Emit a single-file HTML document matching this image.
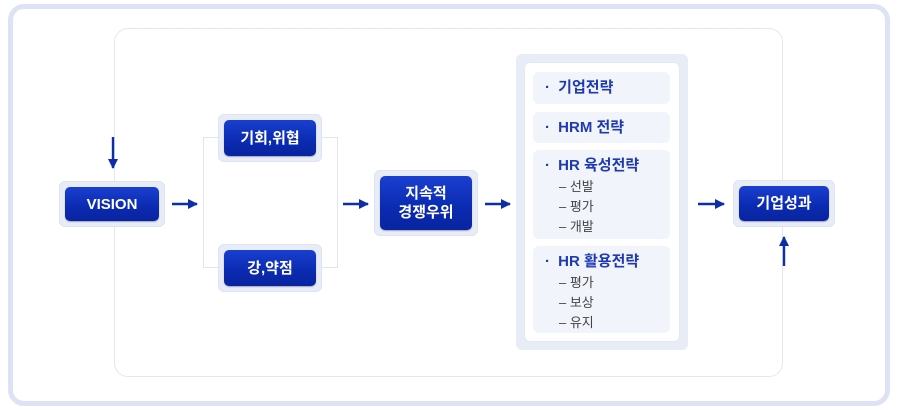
<!DOCTYPE html>
<html><head><meta charset="utf-8"><style>
*{margin:0;padding:0;box-sizing:border-box}
body{width:900px;height:410px;background:#fff;position:relative;overflow:hidden;font-family:"Liberation Sans","Noto Sans CJK KR",sans-serif}
.a{position:absolute}
.frame{left:8px;top:4px;width:882px;height:402px;border:5px solid #dde3f4;border-radius:16px}
.inner{left:114px;top:28px;width:669px;height:349px;border:1px solid #e2e7f4;border-radius:14px}
.ob{position:absolute;background:#e8ecf7;border-radius:6px;border:1px solid #dfe4f2}
.ib{position:absolute;left:5px;top:5px;right:5px;bottom:5px;border-radius:5px;background:linear-gradient(#1a3fd0,#0a2ab0 60%,#0824a0);color:#fff;display:flex;align-items:center;justify-content:center;text-align:center;font-size:15px;line-height:19px;font-weight:600;box-shadow:0 1px 1px rgba(0,0,40,.3)}
.ln{position:absolute;background:#e0e5f3}
.it{position:absolute;left:533px;width:137px;background:#f1f4fb;border-radius:6px;color:#1f3ab0;font-size:15px;font-weight:600;padding:5px 0 0 12px;line-height:22px}
.it b{font-weight:900;margin-right:4px}
.it span{display:block;color:#444;font-size:13px;font-weight:normal;line-height:20px;padding-left:14px}
</style></head><body>
<div class="a frame"></div>
<div class="a inner"></div>
<div class="ln" style="left:203px;top:137px;width:1px;height:131px"></div>
<div class="ln" style="left:203px;top:137px;width:16px;height:1px"></div>
<div class="ln" style="left:203px;top:267px;width:16px;height:1px"></div>
<div class="ln" style="left:337px;top:137px;width:1px;height:131px"></div>
<div class="ln" style="left:322px;top:137px;width:16px;height:1px"></div>
<div class="ln" style="left:322px;top:267px;width:16px;height:1px"></div>

<div class="ob" style="left:59px;top:181px;width:106px;height:46px"><div class="ib">VISION</div></div>
<div class="ob" style="left:218px;top:114px;width:104px;height:48px"><div class="ib">기회,위협</div></div>
<div class="ob" style="left:218px;top:244px;width:104px;height:48px"><div class="ib">강,약점</div></div>
<div class="ob" style="left:374px;top:170px;width:104px;height:66px"><div class="ib">지속적<br>경쟁우위</div></div>
<div class="ob" style="left:733px;top:180px;width:102px;height:47px"><div class="ib">기업성과</div></div>

<div class="a" style="left:516px;top:54px;width:172px;height:296px;background:#e8ecf7;border-radius:6px"></div>
<div class="a" style="left:524px;top:62px;width:156px;height:280px;background:#fff;border-radius:6px;border:1px solid #e4e8f3"></div>
<div class="it" style="top:72px;height:32px"><b>·</b> 기업전략</div>
<div class="it" style="top:112px;height:31px"><b>·</b> HRM 전략</div>
<div class="it" style="top:150px;height:89px"><b>·</b> HR 육성전략<span>– 선발</span><span>– 평가</span><span>– 개발</span></div>
<div class="it" style="top:246px;height:87px"><b>·</b> HR 활용전략<span>– 평가</span><span>– 보상</span><span>– 유지</span></div>

<svg class="a" style="left:0;top:0" width="900" height="410">
<defs><marker id="m" markerWidth="10" markerHeight="10" refX="9" refY="5" orient="auto" markerUnits="userSpaceOnUse"><path d="M0,0L10,5L0,10z" fill="#0e2ea8"/></marker></defs>
<g stroke="#0e2ea8" stroke-width="2.4" marker-end="url(#m)">
<line x1="172" y1="204" x2="197" y2="204"/>
<line x1="343" y1="204" x2="368" y2="204"/>
<line x1="485" y1="204" x2="510" y2="204"/>
<line x1="698" y1="204" x2="724" y2="204"/>
<line x1="113" y1="137" x2="113" y2="168"/>
<line x1="784" y1="266" x2="784" y2="237"/>
</g>
</svg>
</body></html>
